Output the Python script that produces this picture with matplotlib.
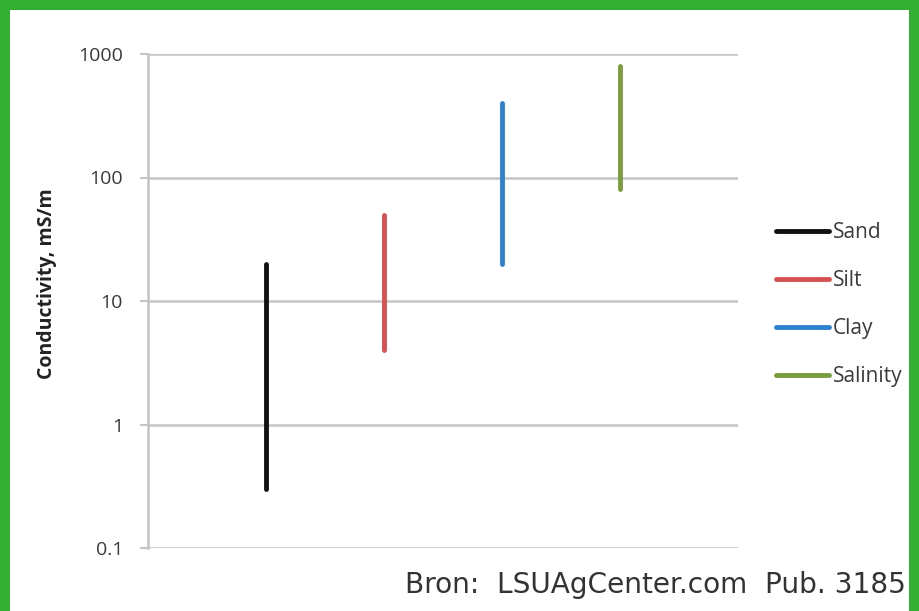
import matplotlib
matplotlib.use("Agg")
import matplotlib.pyplot as plt
from matplotlib.patches import Rectangle

# %% Data
categories = ["Sand", "Silt", "Clay", "Salinity"]
low_values = [0.3, 4, 20, 80]
high_values = [20, 50, 400, 800]
colors = ["#111111", "#d65252", "#2e82cf", "#7a9e3e"]
y_ticks = [0.1, 1, 10, 100, 1000]
y_tick_labels = ["0.1", "1", "10", "100", "1000"]

W, H = 919, 611
fig = plt.figure(figsize=(W / 100, H / 100), dpi=100)
fig.patch.set_facecolor("#33b033")
fig.patches.append(Rectangle((10 / W, 0), (W - 20) / W, (H - 10) / H,
                             transform=fig.transFigure, facecolor="white",
                             edgecolor="none", zorder=-5))

ax = fig.add_axes([148 / W, 63 / H, 590 / W, 494 / H])
ax.set_facecolor("none")
ax.set_zorder(2)

# %% Range bars
for i, (name, lo, hi, c) in enumerate(zip(categories, low_values, high_values, colors)):
    ax.plot([i + 1, i + 1], [lo, hi], color=c, linewidth=3.5,
            solid_capstyle="round", label=name, zorder=3)

ax.set_yscale("log")
ax.set_ylim(0.1, 1000)
ax.set_xlim(0, 5)
ax.set_yticks(y_ticks)
ax.set_yticklabels(y_tick_labels)
ax.minorticks_off()
ax.set_xticks([])
ax.yaxis.grid(True, color="#c4c4c4", linewidth=1.8)
ax.set_axisbelow(True)
for side in ["top", "right", "bottom"]:
    ax.spines[side].set_visible(False)
ax.spines["left"].set_color("#c4c4c4")
ax.spines["left"].set_linewidth(1.8)
ax.tick_params(axis="y", length=6, width=1.5, color="#c4c4c4",
               labelsize=14, labelcolor="#3a3a3a", pad=12)
for lbl in ax.get_yticklabels():
    lbl.set_family("Open Sans")

ax.set_ylabel("Conductivity, mS/m", fontsize=14, fontweight="bold",
              family="Open Sans", color="#222222")
ax.yaxis.set_label_coords(-0.154, 0.535)

leg = ax.legend(loc="center left", bbox_to_anchor=(1.032, 0.493), frameon=False,
                handlelength=2.55, handletextpad=0.2, labelspacing=1.3,
                prop={"family": "Open Sans", "size": 15})
for t in leg.get_texts():
    t.set_color("#3a3a3a")

fig.text(906 / W, 26 / H, "Bron:  LSUAgCenter.com  Pub. 3185", ha="right",
         va="center", fontsize=20.2, family="DejaVu Sans", color="#333333")

fig.savefig("out.png", dpi=100)
